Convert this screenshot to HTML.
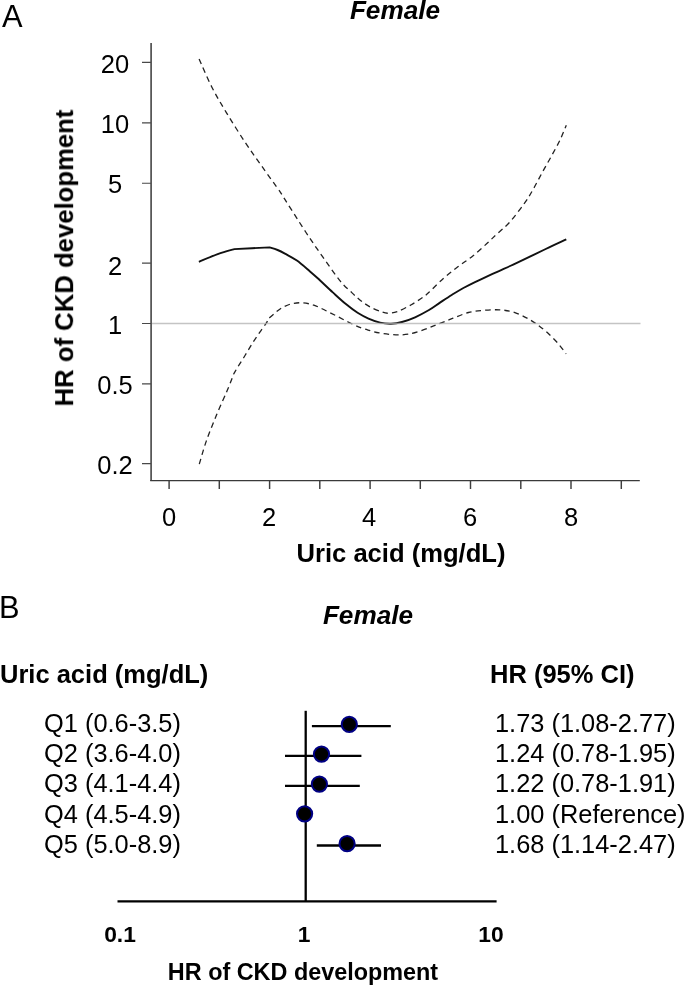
<!DOCTYPE html>
<html><head><meta charset="utf-8">
<style>
html,body{margin:0;padding:0;background:#fff;}
body{width:685px;height:985px;position:relative;overflow:hidden;font-family:"Liberation Sans",sans-serif;color:#000;}
.t{position:absolute;white-space:nowrap;line-height:1;will-change:transform;}
.b{font-weight:bold;}
.bi{font-weight:bold;font-style:italic;}
.c{transform:translateX(-50%);}
svg{position:absolute;left:0;top:0;}
</style></head><body>
<svg width="685" height="985" viewBox="0 0 685 985">
<g fill="none" stroke="#484848">
<path d="M151.1 43V480.9" stroke-width="1.7" stroke="#505050"/>
<path d="M150.2 480.55H639.8" stroke-width="1.25" stroke="#3a3a3a"/>
<path d="M142 62.47H151M142 122.86H151M142 183.25H151M142 263.10H151M142 323.50H151M142 383.90H151M142 463.70H151" stroke-width="1.2"/>
<path d="M169.1 480.3V488.9M219.3 480.3V488.9M269.6 480.3V488.9M319.8 480.3V488.9M370.1 480.3V488.9M420.3 480.3V488.9M470.5 480.3V488.9M520.8 480.3V488.9M571.0 480.3V488.9M621.3 480.3V488.9" stroke-width="1.45" stroke="#3e3e3e"/>
</g>
<path d="M199.1 59.0C201.2 63.7 207.3 78.2 211.9 87.2C216.5 96.2 221.0 103.7 226.5 112.8C232.0 121.9 238.9 132.9 244.8 141.8C250.7 150.7 256.1 158.1 261.9 166.3C267.7 174.6 276.8 187.1 279.8 191.3C284.1 198.1 298.5 221.0 305.7 232.0C312.9 243.0 317.4 249.2 323.1 257.4C328.8 265.5 335.3 275.0 340.1 280.9C344.9 286.8 348.4 289.4 351.8 292.6C355.2 295.9 357.5 298.0 360.5 300.4C363.5 302.8 366.4 304.9 370.0 306.9C373.6 308.8 379.2 311.1 382.3 312.1C385.4 313.2 386.2 313.3 388.8 313.2C391.4 313.1 393.9 312.9 397.6 311.5C401.4 310.1 407.1 307.1 411.3 304.7C415.5 302.3 420.1 299.3 423.0 297.2C425.9 295.1 425.6 295.5 429.0 292.3C432.4 289.1 438.7 282.5 443.6 278.2C448.5 273.9 453.3 270.2 458.2 266.5C463.1 262.8 467.9 259.9 472.8 256.0C477.7 252.1 483.3 246.8 487.4 243.0C491.5 239.2 493.8 236.9 497.6 233.4C501.4 229.9 505.5 226.9 510.0 221.8C514.5 216.7 520.8 208.4 524.7 202.9C528.6 197.4 530.6 193.8 533.5 188.7C536.4 183.6 539.4 177.6 542.3 172.3C545.2 167.0 548.1 162.2 551.0 156.9C553.9 151.6 557.2 145.8 559.8 140.5C562.3 135.2 565.2 127.8 566.3 125.2" stroke="#222" stroke-width="1.3" stroke-dasharray="5.5 4.1" fill="none"/>
<path d="M199.3 464.1C200.5 460.3 203.4 449.3 206.3 441.1C209.2 432.9 213.1 423.3 216.6 414.8C220.1 406.3 224.4 397.2 227.3 390.3C230.2 383.4 232.8 376.4 233.9 373.6C234.6 372.4 236.2 369.6 238.0 366.6C239.8 363.6 242.7 359.3 245.0 355.5C247.3 351.7 249.7 347.6 252.0 343.9C254.3 340.2 256.6 336.8 259.0 333.4C261.4 330.0 264.4 325.9 266.1 323.4C267.8 320.9 268.5 319.1 269.0 318.2C269.8 317.5 271.6 315.8 273.7 314.1C275.8 312.4 278.7 309.6 281.7 307.9C284.7 306.2 288.5 304.5 291.9 303.7C295.3 302.9 298.5 302.6 302.1 302.8C305.8 303.0 309.9 303.8 313.8 305.1C317.7 306.4 321.6 308.6 325.5 310.5C329.4 312.4 333.3 314.3 337.2 316.3C341.1 318.3 344.9 320.4 348.8 322.3C352.7 324.2 357.0 326.2 360.5 327.6C364.0 329.0 366.9 329.7 370.0 330.6C373.1 331.5 376.0 332.3 379.2 332.9C382.4 333.5 386.2 334.0 389.4 334.3C392.6 334.6 395.0 334.9 398.2 334.9C401.4 334.9 404.8 334.8 408.4 334.2C412.0 333.6 416.2 332.3 420.1 331.0C424.0 329.7 428.4 327.9 431.8 326.6C435.2 325.3 437.9 324.2 440.5 323.2C443.1 322.2 445.0 321.4 447.1 320.6C449.2 319.8 449.5 319.6 453.1 318.2C456.7 316.8 463.4 313.8 468.5 312.5C473.6 311.2 478.7 310.8 483.8 310.3C488.9 309.9 494.4 309.6 499.1 309.8C503.9 310.1 507.9 310.6 512.3 311.8C516.7 313.1 521.4 315.3 525.4 317.3C529.4 319.3 532.6 321.3 536.3 323.9C539.9 326.4 543.6 329.3 547.3 332.6C550.9 335.9 555.1 340.1 558.2 343.6C561.3 347.2 564.8 352.2 566.1 353.9" stroke="#222" stroke-width="1.3" stroke-dasharray="5.5 4.1" fill="none"/>
<path d="M198.9 261.8C202.0 260.5 211.8 256.2 217.7 254.1C223.6 252.0 231.5 249.9 234.3 249.1C240.2 248.8 263.8 247.7 269.7 247.4C271.0 247.8 275.1 249.0 277.6 250.0C280.1 251.0 281.7 251.8 284.9 253.6C288.1 255.4 292.7 257.6 296.9 260.6C301.1 263.6 306.2 268.2 310.0 271.4C313.8 274.6 315.8 276.5 319.6 280.0C323.4 283.5 328.4 288.4 332.8 292.4C337.2 296.4 341.8 300.7 345.9 304.1C350.0 307.5 353.8 310.4 357.6 312.8C361.4 315.2 364.8 317.0 368.5 318.6C372.2 320.2 376.4 321.8 380.1 322.6C383.9 323.5 387.4 323.8 391.0 323.7C394.6 323.6 398.0 323.1 402.0 322.0C406.0 320.9 410.6 319.3 415.1 317.3C419.6 315.3 424.9 312.4 429.0 310.0C433.1 307.6 436.2 305.1 440.0 302.6C443.8 300.1 447.8 297.4 451.7 295.0C455.6 292.6 459.5 290.1 463.4 288.0C467.3 285.9 471.1 284.0 475.0 282.1C478.9 280.2 482.8 278.4 486.7 276.6C490.6 274.8 494.5 273.1 498.4 271.3C502.3 269.5 506.5 267.7 510.1 266.0C513.7 264.3 514.1 264.1 520.0 261.3C525.9 258.5 538.0 252.7 545.7 249.0C553.4 245.3 562.9 241.0 566.3 239.4" stroke="#111" stroke-width="1.9" fill="none" stroke-linejoin="round"/>
<path d="M152 323.5H640.5" stroke="#b0b0b0" stroke-width="1.3" fill="none" opacity="0.75"/>
<g stroke="#000" stroke-width="2.3" fill="none">
<path d="M117.5 901.3H496.6"/>
<path d="M305.7 710.8V901.3"/>
</g>
<path d="M311.9 726.1H390.8" stroke="#000" stroke-width="2.3"/><circle cx="349.3" cy="724.3" r="7.6" fill="#000" stroke="#000084" stroke-width="2"/><path d="M285.0 755.9H361.4" stroke="#000" stroke-width="2.3"/><circle cx="321.5" cy="754.1" r="7.6" fill="#000" stroke="#000084" stroke-width="2"/><path d="M285.0 785.9H359.8" stroke="#000" stroke-width="2.3"/><circle cx="319.4" cy="784.1" r="7.6" fill="#000" stroke="#000084" stroke-width="2"/><circle cx="304.6" cy="813.8" r="7.6" fill="#000" stroke="#000084" stroke-width="2"/><path d="M316.8 845.5H381.0" stroke="#000" stroke-width="2.3"/><circle cx="347.1" cy="843.7" r="7.6" fill="#000" stroke="#000084" stroke-width="2"/>
</svg>
<div class="t" style="left:2.2px;top:1.6px;font-size:30.8px;">A</div>
<div class="t bi c" style="left:395.3px;top:-2.7px;font-size:26.2px;">Female</div>
<div class="t c" style="left:115px;top:51.6px;font-size:25.5px;">20</div>
<div class="t c" style="left:115px;top:112.0px;font-size:25.5px;">10</div>
<div class="t c" style="left:115px;top:172.3px;font-size:25.5px;">5</div>
<div class="t c" style="left:115px;top:253.5px;font-size:25.5px;">2</div>
<div class="t c" style="left:115px;top:312.6px;font-size:25.5px;">1</div>
<div class="t c" style="left:115px;top:373.0px;font-size:25.5px;">0.5</div>
<div class="t c" style="left:115px;top:452.8px;font-size:25.5px;">0.2</div>
<div class="t c" style="left:168.6px;top:504.5px;font-size:25.5px;">0</div>
<div class="t c" style="left:268.7px;top:504.5px;font-size:25.5px;">2</div>
<div class="t c" style="left:369.2px;top:504.5px;font-size:25.5px;">4</div>
<div class="t c" style="left:470.1px;top:504.5px;font-size:25.5px;">6</div>
<div class="t c" style="left:570.9px;top:504.5px;font-size:25.5px;">8</div>
<div class="t b c" style="left:401px;top:541px;font-size:25.6px;">Uric acid (mg/dL)</div>
<div class="t b" style="left:64.8px;top:257.5px;font-size:25.7px;transform:translate(-50%,-50%) rotate(-90deg);">HR of CKD development</div>
<div class="t" style="left:-1.4px;top:592.5px;font-size:30.8px;">B</div>
<div class="t bi c" style="left:367.5px;top:602.3px;font-size:26.2px;">Female</div>
<div class="t b" style="left:0px;top:662.3px;font-size:25.5px;">Uric acid (mg/dL)</div>
<div class="t b" style="left:490px;top:662.3px;font-size:25.5px;">HR (95% CI)</div>
<div class="t" style="left:43.8px;top:710.5px;font-size:25.4px;">Q1 (0.6-3.5)</div>
<div class="t" style="left:495.2px;top:710.5px;font-size:25.4px;">1.73 (1.08-2.77)</div>
<div class="t" style="left:43.8px;top:740.9px;font-size:25.4px;">Q2 (3.6-4.0)</div>
<div class="t" style="left:495.2px;top:740.9px;font-size:25.4px;">1.24 (0.78-1.95)</div>
<div class="t" style="left:43.8px;top:771.2px;font-size:25.4px;">Q3 (4.1-4.4)</div>
<div class="t" style="left:495.2px;top:771.2px;font-size:25.4px;">1.22 (0.78-1.91)</div>
<div class="t" style="left:43.8px;top:801.6px;font-size:25.4px;">Q4 (4.5-4.9)</div>
<div class="t" style="left:495.2px;top:801.6px;font-size:25.4px;">1.00 (Reference)</div>
<div class="t" style="left:43.8px;top:831.9px;font-size:25.4px;">Q5 (5.0-8.9)</div>
<div class="t" style="left:495.2px;top:831.9px;font-size:25.4px;">1.68 (1.14-2.47)</div>

<div class="t b c" style="left:119.6px;top:923.4px;font-size:22.8px;">0.1</div>
<div class="t b c" style="left:303.8px;top:923.4px;font-size:22.8px;">1</div>
<div class="t b c" style="left:491.3px;top:923.4px;font-size:22.8px;">10</div>
<div class="t b c" style="left:302.6px;top:960.8px;font-size:23.4px;">HR of CKD development</div>
</body></html>
